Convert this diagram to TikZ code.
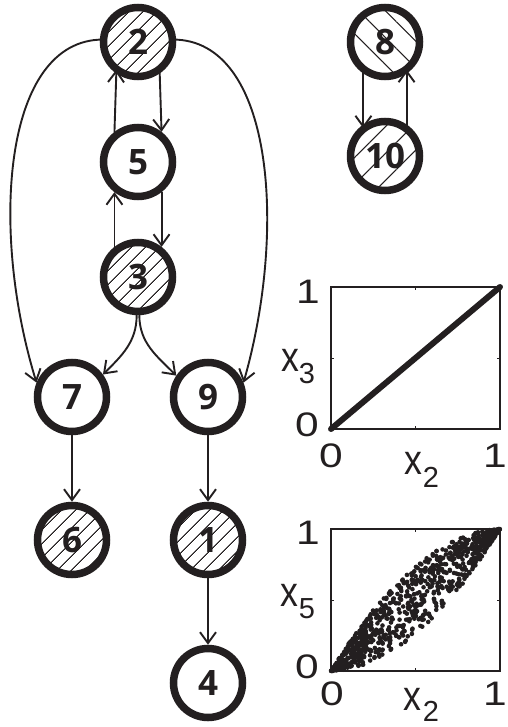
\documentclass[tikz,border=0pt]{standalone}
\usepackage{fontspec}
\setmainfont{Liberation Sans}
\newfontfamily\nodefont{Open Sans}
\newfontfamily\tickfont[FakeStretch=1.25]{Liberation Sans}
\newfontfamily\labfont[FakeStretch=0.85]{Liberation Sans}
\usetikzlibrary{arrows.meta,patterns.meta}
\definecolor{ink}{HTML}{231F20}
\tikzset{
  gnode/.style={circle, draw=ink, line width=7.5pt, minimum size=69pt, inner sep=0pt,
    font=\nodefont\bfseries\fontsize{35}{35}\selectfont, text=ink},
  hatchA/.style={pattern={Lines[angle=45,distance=10.5pt,line width=1.1pt]}, pattern color=ink},
  hatchNW/.style={pattern={Lines[angle=-45,distance=19pt,line width=1.1pt]}, pattern color=ink},
  hatchNE/.style={pattern={Lines[angle=45,distance=19pt,line width=1.1pt]}, pattern color=ink},
  edge/.style={draw=ink, line width=1.9pt, -{Straight Barb[length=11pt,width=16pt]}},
  plotbox/.style={draw=ink, line width=1.3pt},
  tick/.style={inner sep=0pt, font=\tickfont\fontsize{34}{34}\selectfont, text=ink},
  axlab/.style={inner sep=0pt, font=\labfont\fontsize{42}{42}\selectfont, text=ink},
  axsub/.style={inner sep=0pt, font=\fontsize{29}{29}\selectfont, text=ink},
}
\begin{document}
\begin{tikzpicture}[x=1pt,y=1pt]
\useasboundingbox (0,0) rectangle (507,-727);
% graph nodes
\node[gnode,hatchA] (2) at (138,-42) {2};
\node[gnode] (5) at (138,-162) {5};
\node[gnode,hatchA] (3) at (138,-277) {3};
\node[gnode] (7) at (72,-397) {7};
\node[gnode] (9) at (208,-397) {9};
\node[gnode,hatchA] (6) at (72,-540) {6};
\node[gnode,hatchA] (1) at (208,-540) {1};
\node[gnode] (4) at (208,-683) {4};
\node[gnode,hatchNW] (8) at (385,-42) {8};
\node[gnode,hatchNE] (10) at (385,-156) {10};
% edges
\draw[edge] (2.308) -- (5.52);
\draw[edge] (5.128) -- (2.232);
\draw[edge] (5.308) -- (3.52);
\draw[edge] (3.128) -- (5.232);
\draw[edge] (8.232) -- (10.128);
\draw[edge] (10.52) -- (8.308);
\draw[edge] (2.176) .. controls +(-100,0) and +(-47,153) .. (7.158);
\draw[edge] (2.4) .. controls +(100,0) and +(44,154) .. (9.22);
\draw[edge] (3.268) to[out=-90,in=45] (7.36);
\draw[edge] (3.272) to[out=-90,in=135] (9.146);
\draw[edge] (7) -- (6);
\draw[edge] (9) -- (1);
\draw[edge] (1) -- (4);
% plot 1
\draw[plotbox] (331,-287) rectangle (500,-429);
\draw[draw=ink, line width=1pt] (415.5,-287) -- ++(0,-3) (415.5,-429) -- ++(0,3)
  (331,-358) -- ++(3,0) (500,-358) -- ++(-3,0);
\draw[draw=ink, line width=6pt, line cap=round] (331,-429) -- (500,-287);
\node[tick] (p1y1) at (308,-292) {1};
\node[tick] (p1y0) at (307,-425) {0};
\node[tick] (p1x0) at (331,-456) {0};
\node[tick,anchor=east] (p1x1) at (507,-456) {1};
\node[axlab] (p1yl) at (290,-360) {x};
\node[axsub] (p1ys) at (307,-374) {3};
\node[axlab] (p1xl) at (413,-463) {x};
\node[axsub] (p1xs) at (431,-477) {2};
% plot 2
\draw[plotbox] (331,-529) rectangle (500,-671);
\draw[draw=ink, line width=1pt] (415.5,-529) -- ++(0,-3) (415.5,-671) -- ++(0,3)
  (331,-600) -- ++(3,0) (500,-600) -- ++(-3,0);
\pgfmathsetseed{4242}
\foreach \i in {1,...,850}{
  \pgfmathsetmacro\xx{rnd}
  \pgfmathsetmacro\uu{rand}
  \pgfmathsetmacro\yy{\xx+0.95*\xx*(1-\xx)*\uu}
  \fill[ink] (331+169*\xx, -671+142*\yy) circle (2.3pt);
}
\node[tick] (p2y1) at (308,-533) {1};
\node[tick] (p2y0) at (307,-667) {0};
\node[tick] (p2x0) at (332,-694) {0};
\node[tick,anchor=east] (p2x1) at (507,-694) {1};
\node[axlab] (p2yl) at (289,-595) {x};
\node[axsub] (p2ys) at (307,-609) {5};
\node[axlab] (p2xl) at (412,-699) {x};
\node[axsub] (p2xs) at (431,-711) {2};
\end{tikzpicture}
\end{document}
